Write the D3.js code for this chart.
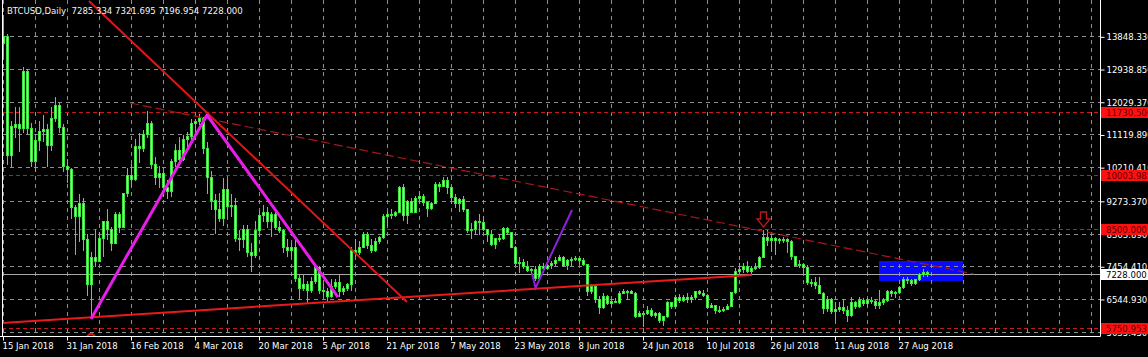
<!DOCTYPE html>
<html>
<head>
<meta charset="utf-8">
<title>BTCUSD,Daily</title>
<script src="https://cdn.jsdelivr.net/npm/d3@7/dist/d3.min.js"></script>
<style>
    html, body { margin: 0; padding: 0; background: #000; }
    #graphDiv { width: 1148px; height: 357px; overflow: hidden; }
    svg text { font-family: "DejaVu Sans Condensed", "DejaVu Sans", sans-serif; font-stretch: condensed; font-size: 9.5px; }
</style>
</head>
<body>
<div id="graphDiv"></div>
<script>
// chart header
var symbol = "BTCUSD,Daily";
var lastQuote = [7285.334, 7321.695, 7196.954, 7228.000];

// first bar of the window, one bar per day
var firstDay = "2018-01-15";

// daily bars [open, high, low, close]
var jan = [
    [13650, 14450, 13300, 13850], [13850, 13900, 10300, 10550], [10550, 11500, 10250, 11350],
    [11320, 11880, 11050, 11400], [11400, 11880, 10650, 11300], [11300, 12990, 11200, 12880],
    [12880, 12950, 11150, 11300], [11300, 11450, 10250, 10380], [10380, 11100, 10100, 10970],
    [10970, 11500, 10700, 11220], [11220, 11670, 10950, 11280], [11280, 11400, 10250, 10830],
    [10830, 11880, 10700, 11580], [11580, 12160, 11500, 11940], [11940, 12000, 11200, 11330],
    [11330, 11400, 10100, 10250], [10250, 10450, 9800, 10150]
];
var feb = [
    [10150, 10200, 8800, 9100], [9100, 9150, 7800, 8850], [8850, 9450, 8150, 9200],
    [9200, 9350, 7900, 8200], [8200, 8350, 6650, 6950], [6950, 7850, 6050, 7700],
    [7700, 8500, 7450, 7600], [7600, 8400, 7600, 8250], [8250, 8700, 7750, 8700],
    [8700, 9050, 8200, 8500], [8500, 8550, 7900, 8100], [8100, 8950, 8100, 8900],
    [8900, 8950, 8400, 8550], [8550, 9500, 8550, 9480], [9480, 10200, 9400, 10000],
    [10000, 10300, 9700, 9890], [9890, 11000, 9850, 10800], [10800, 11150, 10350, 10750],
    [10750, 11250, 10650, 11140], [11140, 11780, 11050, 11450], [11450, 11500, 10200, 10300],
    [10300, 10500, 9750, 9950], [9950, 10250, 9650, 10050], [10050, 10100, 9400, 9650],
    [9650, 9850, 9350, 9550], [9550, 10450, 9400, 10390], [10390, 10850, 10250, 10700],
    [10700, 11050, 10400, 10450]
];
var mar = [
    [10450, 11100, 10400, 11000], [11000, 11200, 10800, 11080], [11080, 11550, 11000, 11450],
    [11450, 11550, 11100, 11500], [11500, 11700, 11400, 11580], [11580, 11600, 10600, 10750],
    [10750, 10900, 9500, 9950], [9950, 10100, 9050, 9300], [9300, 9450, 8370, 9050],
    [9050, 9500, 8700, 8790], [8790, 9900, 8600, 9600], [9600, 9900, 8800, 9130],
    [9130, 9450, 8850, 9150], [9150, 9350, 8150, 8250], [8250, 8450, 7900, 8200],
    [8200, 8600, 8000, 8500], [8500, 8600, 7750, 7850], [7850, 8100, 7320, 7780],
    [7780, 8700, 7700, 8450], [8450, 9000, 8300, 8870], [8870, 9150, 8700, 8950],
    [8950, 9100, 8550, 8700], [8700, 8950, 8300, 8900], [8900, 9050, 8500, 8550],
    [8550, 8700, 8400, 8450], [8450, 8500, 7850, 8000], [8000, 8200, 7750, 7900],
    [7900, 8100, 7750, 7980], [7980, 8250, 7050, 7130], [7130, 7250, 6580, 6850],
    [6850, 7200, 6800, 6950]
];
var apr = [
    [6950, 7050, 6450, 6800], [6800, 7150, 6750, 7050], [7050, 7500, 7000, 7420],
    [7420, 7450, 6700, 6800], [6800, 6950, 6600, 6780], [6780, 6850, 6500, 6620],
    [6620, 7100, 6600, 6900], [6900, 7100, 6850, 7030], [7030, 7200, 6620, 6780],
    [6780, 6900, 6680, 6840], [6840, 7000, 6800, 6950], [6950, 8000, 6800, 7900],
    [7900, 8200, 7750, 7850], [7850, 8150, 7800, 8000], [8000, 8400, 7990, 8350],
    [8350, 8400, 7950, 8050], [8050, 8200, 7850, 7900], [7900, 8250, 7880, 8150],
    [8150, 8300, 8100, 8270], [8270, 8900, 8250, 8850], [8850, 9000, 8600, 8900],
    [8900, 9050, 8800, 8870], [8870, 9000, 8850, 8950], [8950, 9700, 8950, 9650],
    [9650, 9750, 8750, 8870], [8870, 9300, 8650, 9280], [9280, 9350, 8950, 8970],
    [8970, 9400, 8950, 9350], [9350, 9550, 9200, 9400], [9400, 9450, 9150, 9250]
];
var may = [
    [9250, 9250, 8850, 9080], [9080, 9250, 9050, 9220], [9220, 9800, 9200, 9750],
    [9750, 9800, 9550, 9700], [9700, 9950, 9700, 9860], [9860, 9930, 9500, 9650],
    [9650, 9680, 9200, 9370], [9370, 9450, 9100, 9200], [9200, 9350, 8980, 9320],
    [9320, 9400, 9000, 9040], [9040, 9040, 8400, 8450], [8450, 8650, 8250, 8500],
    [8500, 8750, 8350, 8700], [8700, 8900, 8350, 8680], [8680, 8850, 8450, 8500],
    [8500, 8500, 8150, 8350], [8350, 8450, 8050, 8070], [8070, 8250, 7950, 8250],
    [8250, 8350, 8150, 8250], [8250, 8550, 8200, 8530], [8530, 8550, 8350, 8400],
    [8400, 8400, 7980, 8000], [8000, 8030, 7500, 7550], [7550, 7700, 7300, 7580],
    [7580, 7650, 7400, 7470], [7470, 7600, 7330, 7350], [7350, 7400, 7250, 7370],
    [7370, 7450, 7080, 7130], [7130, 7530, 7080, 7470], [7470, 7550, 7300, 7400],
    [7400, 7600, 7380, 7500]
];
var jun = [
    [7500, 7600, 7400, 7540], [7540, 7700, 7480, 7640], [7640, 7760, 7630, 7720],
    [7720, 7750, 7450, 7500], [7500, 7650, 7380, 7630], [7630, 7700, 7500, 7660],
    [7660, 7750, 7640, 7690], [7690, 7700, 7550, 7620], [7620, 7680, 7500, 7530],
    [7530, 7530, 6650, 6780], [6780, 6950, 6700, 6900], [6900, 6920, 6450, 6550],
    [6550, 6620, 6150, 6320], [6320, 6700, 6300, 6640], [6640, 6650, 6400, 6420],
    [6420, 6550, 6380, 6500], [6500, 6580, 6450, 6460], [6460, 6770, 6420, 6720],
    [6720, 6820, 6700, 6760], [6760, 6800, 6580, 6770], [6770, 6800, 6700, 6720],
    [6720, 6740, 6050, 6080], [6080, 6220, 6060, 6160], [6160, 6220, 5780, 6150],
    [6150, 6350, 6120, 6250], [6250, 6280, 6080, 6100], [6100, 6180, 6050, 6160],
    [6160, 6170, 5900, 5950], [5950, 6080, 5830, 6060], [6060, 6500, 6030, 6460]
];
var jul = [
    [6460, 6470, 6300, 6360], [6360, 6650, 6300, 6600], [6600, 6680, 6450, 6520],
    [6520, 6650, 6480, 6590], [6590, 6700, 6450, 6530], [6530, 6650, 6450, 6600],
    [6600, 6780, 6550, 6760], [6760, 6800, 6680, 6710], [6710, 6800, 6640, 6660],
    [6660, 6680, 6300, 6330], [6330, 6420, 6310, 6380], [6380, 6390, 6150, 6250],
    [6250, 6340, 6170, 6230], [6230, 6320, 6200, 6270], [6270, 6400, 6260, 6360],
    [6360, 6750, 6340, 6740], [6740, 7400, 6700, 7330], [7330, 7550, 7250, 7380],
    [7380, 7550, 7300, 7470], [7470, 7600, 7300, 7330], [7330, 7450, 7250, 7400],
    [7400, 7550, 7380, 7420], [7420, 7750, 7400, 7720], [7720, 8450, 7700, 8260],
    [8260, 8450, 8050, 8180], [8180, 8300, 7870, 8230], [8230, 8280, 7800, 8190],
    [8190, 8250, 8100, 8220], [8220, 8280, 8130, 8200], [8200, 8250, 7850, 8170],
    [8170, 8180, 7650, 7740]
];
var aug = [
    [7740, 7750, 7450, 7490], [7490, 7620, 7420, 7530], [7530, 7550, 7300, 7420],
    [7420, 7500, 6950, 7010], [7010, 7100, 6900, 7030], [7030, 7150, 6850, 6940],
    [6940, 7150, 6700, 6720], [6720, 6730, 6150, 6280], [6280, 6620, 6220, 6540],
    [6540, 6580, 6150, 6220], [6220, 6450, 5970, 6260], [6260, 6450, 6200, 6330],
    [6330, 6550, 6150, 6250], [6250, 6350, 5940, 6110], [6110, 6600, 6080, 6450],
    [6450, 6500, 6300, 6350], [6350, 6600, 6330, 6520], [6520, 6580, 6380, 6440],
    [6440, 6560, 6350, 6520], [6520, 6600, 6420, 6480], [6480, 6550, 6300, 6380],
    [6380, 6800, 6300, 6450], [6450, 6560, 6400, 6520], [6520, 6800, 6480, 6760],
    [6760, 6800, 6640, 6700], [6700, 6780, 6600, 6730], [6730, 6900, 6700, 6880],
    [6880, 7150, 6860, 7100], [7100, 7150, 7000, 7060], [7060, 7100, 6920, 6980],
    [6980, 7100, 6950, 7090]
];
var sep = [
    [7090, 7280, 7060, 7250], [7250, 7380, 7180, 7285.334], [7285.334, 7321.695, 7196.954, 7228.000]
];

// right scale labels and the visible price window
var priceTicks = [13848.330, 12938.850, 12029.370, 11119.890, 10210.410, 9273.370, 8363.890, 7454.410, 6544.930, 5635.450];
var priceWindow = [5514.6, 14859.3];
var daysVisible = 274.25;

// bottom scale labels
var dateTicks = ["2018-01-15", "2018-01-31", "2018-02-16", "2018-03-04", "2018-03-20", "2018-04-05", "2018-04-21",
    "2018-05-07", "2018-05-23", "2018-06-08", "2018-06-24", "2018-07-10", "2018-07-26", "2018-08-11", "2018-08-27"];

// horizontal levels and bid
var levels = [11730.506, 10003.982, 8500.000, 5750.953];
var bid = 7228.000;

// drawn objects (time, price)
var resistLine = [["2018-02-05T12:00Z", 14831], ["2018-04-26T00:00Z", 6460]];
var supportLine = [["2018-01-14T06:00Z", 5876], ["2018-07-21T06:00Z", 7211]];
var channelLine = [["2018-02-15T18:00Z", 11995], ["2018-09-14T18:00Z", 7239]];
var swingLine = [["2018-02-06T00:00Z", 5990], ["2018-03-07T00:00Z", 11661], ["2018-04-08T18:00Z", 6599]];
var vLine = [["2018-05-27T06:00Z", 7267], ["2018-05-28T03:00Z", 6850], ["2018-06-06T06:00Z", 9019]];
var downArrow = ["2018-07-24T00:00Z", 8546];
var circleMark = ["2018-02-06T00:00Z", 5459];
var zoneBox = [["2018-08-22T00:00Z", 7601], ["2018-09-12T00:00Z", 7045]];


var W = 1148, H = 357,
    plotRight = 1100, plotBottom = 336,
    DAY = 864e5;

var start = new Date(firstDay);

var x = d3.scaleUtc()
    .domain([start, new Date(start.getTime() + daysVisible * DAY)])
    .range([3, plotRight]);
var y = d3.scaleLinear()
    .domain(priceWindow)
    .range([plotBottom, 0]);

var bars = [].concat(jan, feb, mar, apr, may, jun, jul, aug, sep).map(function (d, i) {
    return {date: new Date(start.getTime() + i * DAY), o: d[0], h: d[1], l: d[2], c: d[3]};
});

function px(v) { return Math.round(v) + 0.5; }
function pt(d) { return [x(new Date(d[0])), y(d[1])]; }

var svg = d3.select("#graphDiv").append("svg")
    .attr("width", W)
    .attr("height", H);

svg.append("rect").attr("width", W).attr("height", H).attr("fill", "#000");

svg.append("defs").append("clipPath").attr("id", "plotClip")
    .append("rect").attr("x", 2).attr("y", 0).attr("width", plotRight - 2).attr("height", plotBottom);

var plot = svg.append("g").attr("clip-path", "url(#plotClip)");

// blue zone, sits behind everything else
var z0 = pt(zoneBox[0]), z1 = pt(zoneBox[1]);
plot.append("rect")
    .attr("x", z0[0]).attr("y", z0[1])
    .attr("width", z1[0] - z0[0]).attr("height", z1[1] - z0[1])
    .attr("fill", "#0a0aff");

// grid
var gridDays = d3.range(0, daysVisible, 8).map(function (k) { return new Date(start.getTime() + k * DAY); });
plot.append("g").selectAll("line").data(gridDays).join("line")
    .attr("x1", function (d) { return px(x(d)); })
    .attr("x2", function (d) { return px(x(d)); })
    .attr("y1", 0).attr("y2", plotBottom)
    .attr("stroke", "#8a8f96").attr("stroke-dasharray", "4,4");
plot.append("g").selectAll("line").data(priceTicks).join("line")
    .attr("x1", 2).attr("x2", plotRight)
    .attr("y1", function (d) { return px(y(d)); })
    .attr("y2", function (d) { return px(y(d)); })
    .attr("stroke", "#8a8f96").attr("stroke-dasharray", "4,4");

// horizontal levels
plot.append("g").selectAll("line").data(levels).join("line")
    .attr("x1", 2).attr("x2", plotRight)
    .attr("y1", function (d) { return px(y(d)); })
    .attr("y2", function (d) { return px(y(d)); })
    .attr("stroke", "#c41c1c").attr("stroke-dasharray", "4,3");

plot.append("line")
    .attr("x1", 2).attr("x2", plotRight)
    .attr("y1", px(y(bid))).attr("y2", px(y(bid)))
    .attr("stroke", "#a9a9a9");

// candles
var candles = plot.append("g").attr("shape-rendering", "crispEdges");
candles.selectAll("line").data(bars).join("line")
    .attr("x1", function (d) { return Math.round(x(d.date)) + 0.5; })
    .attr("x2", function (d) { return Math.round(x(d.date)) + 0.5; })
    .attr("y1", function (d) { return Math.round(y(d.h)); })
    .attr("y2", function (d) { return Math.round(y(d.l)) + 1; })
    .attr("stroke", "#3fe83f");
candles.selectAll("rect").data(bars).join("rect")
    .attr("x", function (d) { return Math.round(x(d.date)) - 0.5; })
    .attr("y", function (d) { return Math.round(y(Math.max(d.o, d.c))) + 0.5; })
    .attr("width", 2)
    .attr("height", function (d) { return Math.max(1, Math.round(y(Math.min(d.o, d.c))) - Math.round(y(Math.max(d.o, d.c)))); })
    .attr("fill", "#a6f5a6")
    .attr("stroke", "#3fe83f");

// drawn objects
var line = d3.line().x(function (d) { return pt(d)[0]; }).y(function (d) { return pt(d)[1]; });

plot.append("path").attr("d", line(channelLine))
    .attr("fill", "none").attr("stroke", "#a8161c").attr("stroke-width", 1.2).attr("stroke-dasharray", "9,4");
plot.append("path").attr("d", line(supportLine))
    .attr("fill", "none").attr("stroke", "#ea1a1a").attr("stroke-width", 2);
plot.append("path").attr("d", line(resistLine))
    .attr("fill", "none").attr("stroke", "#e31515").attr("stroke-width", 2);
plot.append("path").attr("d", line(swingLine))
    .attr("fill", "none").attr("stroke", "#e81ee8").attr("stroke-width", 3).attr("stroke-linejoin", "round");
plot.append("path").attr("d", line(vLine))
    .attr("fill", "none").attr("stroke", "#8c22d8").attr("stroke-width", 2);

var a = pt(downArrow);
plot.append("path")
    .attr("transform", "translate(" + (Math.round(a[0]) + 0.5) + "," + a[1] + ")")
    .attr("d", "M-3,-15L3,-15L3,-8L6.5,-8L0,0L-6.5,-8L-3,-8Z")
    .attr("fill", "none").attr("stroke", "#b81818").attr("stroke-width", 1.4);

var cm = pt(circleMark);
plot.append("circle").attr("cx", cm[0]).attr("cy", cm[1]).attr("r", 4)
    .attr("fill", "none").attr("stroke", "#e01818").attr("stroke-width", 2);

// frame
svg.append("path")
    .attr("d", "M2.5,0V" + (plotBottom + 0.5) + "M0," + (plotBottom + 0.5) + "H" + (plotRight + 0.5) + "V0")
    .attr("fill", "none").attr("stroke", "#fff");

// price scale
var yAxis = d3.axisRight(y).tickValues(priceTicks).tickFormat(d3.format(".3f")).tickSize(4).tickPadding(2);
var ya = svg.append("g").attr("transform", "translate(" + (plotRight + 0.5) + ",0)").call(yAxis);
ya.select(".domain").remove();
ya.selectAll("line").attr("stroke", "#fff").attr("transform", "translate(0,0.5)");
ya.selectAll("text").attr("fill", "#fff").attr("font-size", null).attr("font-family", null)
    .attr("dy", null).attr("y", 3.5);

// level labels on the scale
var tags = svg.append("g");
levels.forEach(function (v) {
    var yy = Math.round(y(v));
    tags.append("rect").attr("x", plotRight + 1).attr("y", yy - 5).attr("width", W - plotRight).attr("height", 11).attr("fill", "#ff1010");
    tags.append("text").attr("x", plotRight + 6).attr("y", yy + 4).attr("fill", "#5c0000").text(d3.format(".3f")(v));
});
var yb = Math.round(y(bid));
tags.append("rect").attr("x", plotRight + 1).attr("y", yb - 5).attr("width", W - plotRight).attr("height", 11).attr("fill", "#fff");
tags.append("text").attr("x", plotRight + 6).attr("y", yb + 4).attr("fill", "#000").text(d3.format(".3f")(bid));

// time scale
var xAxis = d3.axisBottom(x).tickValues(dateTicks.map(function (d) { return new Date(d); }))
    .tickFormat(d3.utcFormat("%-d %b %Y")).tickSize(4);
var xa = svg.append("g").attr("transform", "translate(0," + (plotBottom + 0.5) + ")").call(xAxis);
xa.select(".domain").remove();
xa.selectAll(".tick").attr("transform", function (d) { return "translate(" + px(x(d)) + ",0)"; });
xa.selectAll("line").attr("stroke", "#fff");
xa.selectAll("text").attr("fill", "#fff").attr("font-size", null).attr("font-family", null)
    .attr("text-anchor", "start").attr("x", -1).attr("dy", null).attr("y", 12);

// header
svg.append("text")
    .attr("x", 7).attr("y", 14)
    .attr("fill", "#f2f2f2")
    .style("white-space", "pre")
    .text(symbol + "  " + lastQuote.map(d3.format(".3f")).join(" "));
</script>
</body>
</html>
